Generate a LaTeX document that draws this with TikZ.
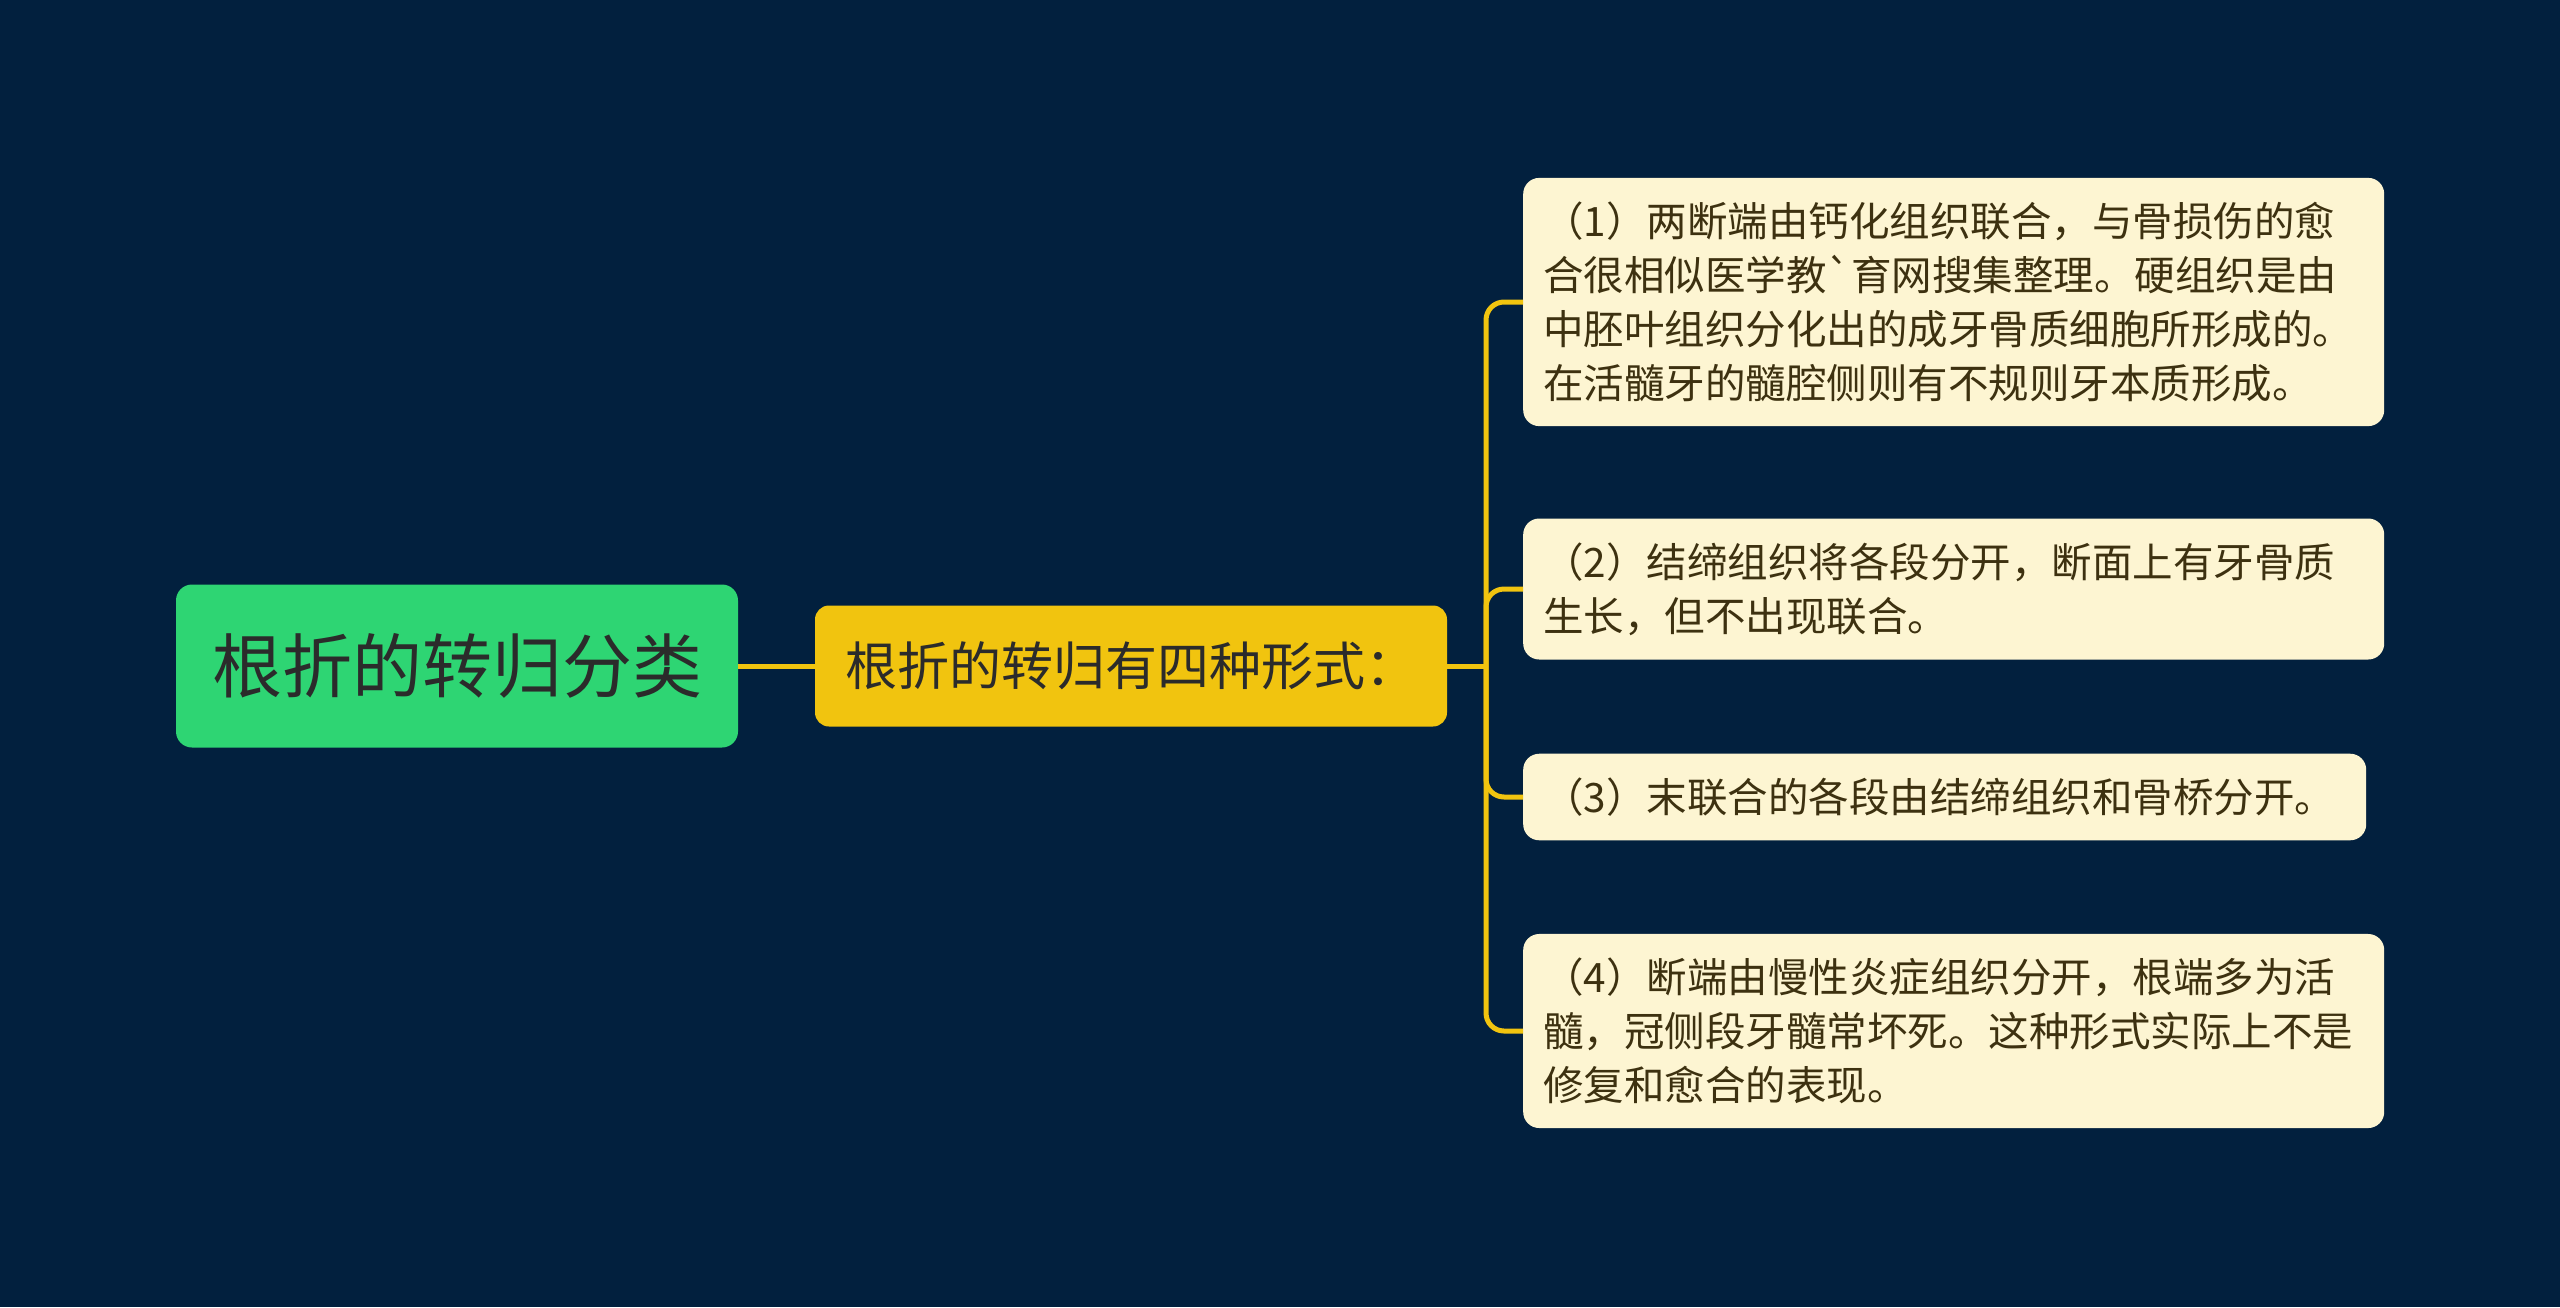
\documentclass[tikz,border=0pt]{standalone}
\usepackage{fontspec}
\setmainfont{Noto Sans CJK SC}[Ligatures=TeXOff]
\usetikzlibrary{positioning}
\definecolor{bgnavy}{HTML}{02203E}
\definecolor{rootgreen}{HTML}{2ED573}
\definecolor{formyellow}{HTML}{F1C40F}
\definecolor{leafcream}{HTML}{FDF5D2}
\definecolor{leafbrown}{HTML}{3D3110}
\definecolor{darktext}{HTML}{2B2B2B}

\begin{document}
\begin{tikzpicture}[x=1pt, y=1pt,
    root/.style={rectangle, rounded corners=16pt, fill=rootgreen, text=darktext,
        minimum width=562pt, minimum height=163pt, inner sep=0pt,
        font=\fontsize{70}{84}\selectfont},
    form/.style={rectangle, rounded corners=14pt, fill=formyellow, text=darktext,
        minimum width=632pt, minimum height=121pt, inner sep=0pt,
        font=\fontsize{52}{62}\selectfont},
    leaf/.style={rectangle, rounded corners=16pt, fill=leafcream, text=leafbrown,
        anchor=west, align=left, text width=821pt, inner xsep=20pt, inner ysep=24pt,
        font=\fontsize{40.5}{54}\selectfont},
    link/.style={draw=formyellow, line width=5pt}]
    \fill[bgnavy] (0,0) rectangle (2560,-1307);
    \useasboundingbox (0,0) rectangle (2560,-1307);

    \node[root] (root) at (457,-666) {根折的转归分类};
    \node[form] (form) at (1131,-666) {根折的转归有四种形式：};

    \node[leaf] (l1) at (1523,-302) {（1）两断端由钙化组织联合，与骨损伤的愈\\合很相似医学教`育网搜集整理。硬组织是由\\中胚叶组织分化出的成牙骨质细胞所形成的。\\在活髓牙的髓腔侧则有不规则牙本质形成。};
    \node[leaf] (l2) at (1523,-589) {（2）结缔组织将各段分开，断面上有牙骨质\\生长，但不出现联合。};
    \node[leaf, text width=803pt] (l3) at (1523,-797) {（3）末联合的各段由结缔组织和骨桥分开。};
    \node[leaf] (l4) at (1523,-1031) {（4）断端由慢性炎症组织分开，根端多为活\\髓，冠侧段牙髓常坏死。这种形式实际上不是\\修复和愈合的表现。};

    \coordinate (fork) at (1486,-666);
    \draw[link] (root) -- (form);
    \draw[link] (form) -- (fork);
    \foreach \n in {l1, l2, l3, l4}
        \draw[link, rounded corners=18pt] (fork) |- (\n.west);
\end{tikzpicture}
\end{document}
